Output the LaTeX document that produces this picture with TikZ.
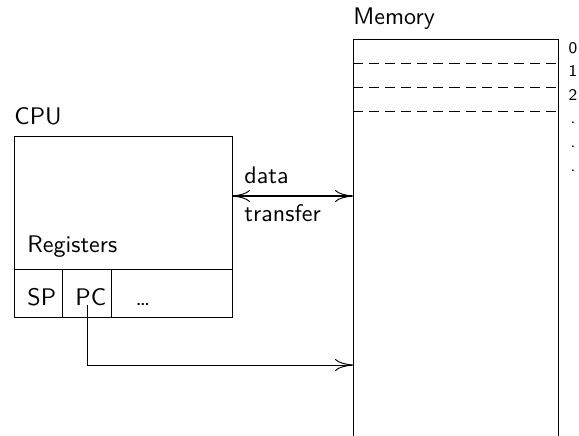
\documentclass[tikz,border=0pt]{standalone}
\usetikzlibrary{arrows.meta}
\begin{document}
\begin{tikzpicture}[x=0.416667pt,y=-0.416667pt,font=\sffamily,
  box/.style={draw,rectangle,inner sep=0pt,outer sep=0pt},
  lbl/.style={inner sep=0pt,anchor=base west},
  idx/.style={inner sep=0pt,anchor=base,font=\sffamily\fontsize{6.8}{7}\selectfont},
  tip/.style={-{To[length=7.5pt,width=5pt,line width=0.4pt]}},
  tips/.style={{To[length=7.5pt,width=5pt,line width=0.4pt]}-{To[length=7.5pt,width=5pt,line width=0.4pt]}},
  memsep/.style={dash pattern=on 4.2pt off 2.5pt}]
\useasboundingbox (0,0) rectangle (579,435);
\clip (0,0) rectangle (579,435);
% memory
\node[box,anchor=north west,minimum width=205*0.416667pt,minimum height=430*0.416667pt] (mem) at (353,39) {};
\node[lbl] (memlbl) at (353,24) {Memory};
\foreach \k in {1,2,3}{
  \draw[memsep] ([yshift=-\k*24*0.416667pt]mem.north west) -- ([yshift=-\k*24*0.416667pt]mem.north east);
}
\foreach \t [count=\k from 0] in {0,1,2,.,.,.}{
  \node[idx] (i\k) at (573,{53+23.6*\k}) {\t};
}
% cpu
\node[box,anchor=north west,minimum width=218*0.416667pt,minimum height=181*0.416667pt] (cpu) at (14,136) {};
\node[lbl] (cpulbl) at (14,124) {CPU};
\node[lbl] (reglbl) at (27,252) {Registers};
\node[box,anchor=north west,minimum width=48*0.416667pt,minimum height=48*0.416667pt] (sp) at (14,269) {};
\node[box,anchor=north west,minimum width=49*0.416667pt,minimum height=48*0.416667pt] (pc) at (62,269) {};
\node[box,anchor=north west,minimum width=121*0.416667pt,minimum height=48*0.416667pt] (rest) at (111,269) {};
\node[lbl] (sptext) at (27,305) {SP};
\node[lbl] (pctext) at (75,305) {PC};
\node[lbl] (resttext) at (135,305) {\dots};
% data transfer
\coordinate (dy) at (0,196);
\draw[tips,thick] (cpu.east |- dy) -- (mem.west |- dy);
\node[lbl] (datalbl) at (244,183) {data};
\node[lbl] (translbl) at (244,221) {transfer};
% PC pointer
\coordinate (pcs) at (87,305);
\coordinate (py) at (0,365);
\draw[tip] (pcs) |- (mem.west |- py);
\end{tikzpicture}
\end{document}
